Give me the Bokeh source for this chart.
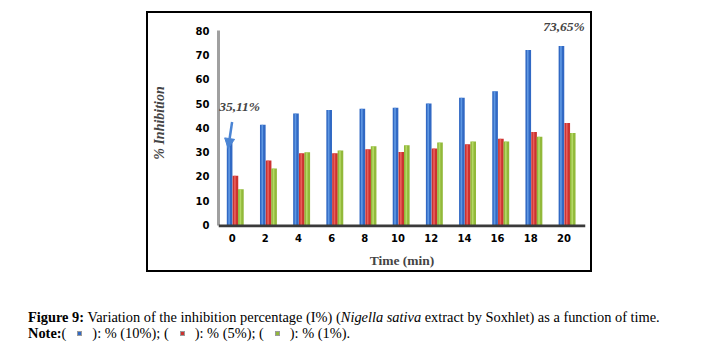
from bokeh.plotting import figure
from bokeh.models import (ColumnDataSource, FixedTicker, Label, Arrow, NormalHead,
                          Span, Div)
from bokeh.layouts import column
from bokeh.embed import file_html
from bokeh.resources import INLINE

# ---- data ----
time_min = [0, 2, 4, 6, 8, 10, 12, 14, 16, 18, 20]
inh_10 = [35.11, 41.3, 45.9, 47.4, 47.9, 48.3, 50.0, 52.4, 55.1, 72.0, 73.65]
inh_5 = [20.3, 26.6, 29.6, 29.6, 31.2, 30.1, 31.5, 33.3, 35.5, 38.3, 42.0]
inh_1 = [14.7, 23.3, 30.0, 30.7, 32.4, 32.8, 34.0, 34.4, 34.4, 36.3, 37.9]
y_ticks = [0, 10, 20, 30, 40, 50, 60, 70, 80]

blue, red, green = "#3169c4", "#cc3230", "#92b93a"
blue_hi, red_hi, green_hi = "#6aa2ea", "#ee6a66", "#bde070"

p = figure(width=442, height=257, x_range=(-0.82, 21.3), y_range=(-1, 85),
           output_backend="svg", toolbar_location=None,
           min_border_left=69, min_border_right=5,
           min_border_top=5, min_border_bottom=42)
p.margin = (13, 0, 0, 148)
p.styles = {"outline": "2px solid black"}
p.background_fill_color = "white"
p.border_fill_color = "white"
p.outline_line_color = None
p.xgrid.visible = False
p.ygrid.visible = False

src = ColumnDataSource(dict(
    x1=[t - 0.15 for t in time_min], x2=[t + 0.2 for t in time_min],
    x3=[t + 0.53 for t in time_min],
    h1=[t - 0.18 for t in time_min], h2=[t + 0.17 for t in time_min],
    h3=[t + 0.50 for t in time_min],
    b=inh_10, r=inh_5, g=inh_1))
bw = 0.34
hw = 0.1
p.vbar(x="x1", top="b", width=bw, source=src, fill_color=blue, line_color=None)
p.vbar(x="x2", top="r", width=bw, source=src, fill_color=red, line_color=None)
p.vbar(x="x3", top="g", width=bw, source=src, fill_color=green, line_color=None)
p.vbar(x="h1", top="b", width=hw, source=src, fill_color=blue_hi, line_color=None, fill_alpha=0.8)
p.vbar(x="h2", top="r", width=hw, source=src, fill_color=red_hi, line_color=None, fill_alpha=0.8)
p.vbar(x="h3", top="g", width=hw, source=src, fill_color=green_hi, line_color=None, fill_alpha=0.8)

# floor
p.add_layout(Span(location=-0.4, dimension="width", line_color="#3a3a3a", line_width=3))

# axes
p.xaxis.ticker = FixedTicker(ticks=time_min)
p.yaxis.ticker = FixedTicker(ticks=y_ticks)
for ax in (p.xaxis, p.yaxis):
    ax.major_label_text_font = "DejaVu Sans"
    ax.major_label_text_font_style = "bold"
    ax.major_label_text_font_size = "10px"
    ax.major_label_text_color = "black"
    ax.major_tick_line_color = None
    ax.minor_tick_line_color = None
    ax.major_tick_out = 0
    ax.major_tick_in = 0
    ax.minor_tick_out = 0
    ax.minor_tick_in = 0
p.xaxis.axis_line_color = None
p.yaxis.axis_line_color = "#a0a0a0"
p.yaxis.axis_line_width = 3
p.yaxis.bounds = (0, 80)
p.xaxis.major_label_standoff = 6
p.yaxis.major_label_standoff = 9

p.xaxis.axis_label = "Time (min)"
p.xaxis.axis_label_text_font = "Liberation Serif"
p.xaxis.axis_label_text_font_style = "bold"
p.xaxis.axis_label_text_font_size = "13.5px"
p.xaxis.axis_label_standoff = 8

p.yaxis.axis_label = "% Inhibition"
p.yaxis.axis_label_text_font = "Liberation Serif"
p.yaxis.axis_label_text_font_style = "bold italic"
p.yaxis.axis_label_text_font_size = "14px"
p.yaxis.axis_label_standoff = 26

# annotations
fmt = lambda v: f"{v:.2f}".replace(".", ",") + "%"
p.add_layout(Label(x=-0.78, y=45.5, text=fmt(inh_10[0]), text_font="Liberation Serif",
                   text_font_style="bold italic", text_font_size="13.5px"))
p.add_layout(Label(x=18.75, y=78.5, text=fmt(inh_10[-1]), text_font="Liberation Serif",
                   text_font_style="bold italic", text_font_size="13.5px"))
p.add_layout(Arrow(x_start=0.0, y_start=42.4, x_end=-0.24, y_end=31.5,
                   line_color="#4a84d4", line_width=2.5,
                   end=NormalHead(size=10, fill_color="#4a84d4", line_color="#4a84d4")))

sq = lambda c: (f'<span style="display:inline-block;width:5px;height:5px;'
                f'background:{c};border:1px solid #9a9a9a;margin:0 10px 0 11px;vertical-align:2px"></span>')
cap = Div(width=722, height=81, margin=0, text=(
    '<div style="font-family:\'Liberation Serif\';font-size:14.4px;line-height:16px;'
    'color:black;padding:39px 0 0 28px;white-space:nowrap">'
    '<b>Figure 9:</b> Variation of the inhibition percentage (I%) (<i>Nigella sativa</i> '
    'extract by Soxhlet) as a function of time.<br>'
    f'<b>Note:</b>({sq(blue)}): % (10%); ({sq(red)}): % (5%); ({sq(green)}): % (1%).'
    '</div>'))

layout = column(p, cap, spacing=0)
open("out.html", "w").write(file_html(layout, INLINE))
